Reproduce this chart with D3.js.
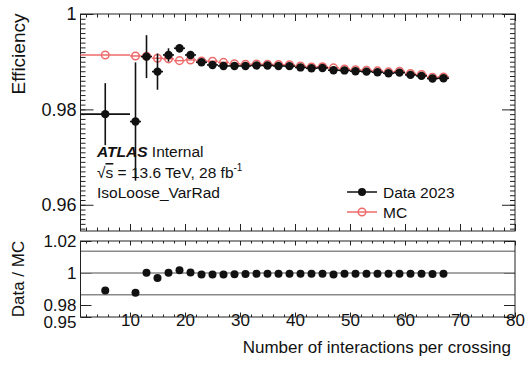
<!DOCTYPE html>
<html>
<head>
<meta charset="utf-8">
<script src="https://cdn.jsdelivr.net/npm/d3@7"></script>
<style>
  body { margin: 0; background: #fff; }
  svg { display: block; font-family: 'Liberation Sans', Arial, Helvetica, sans-serif; }
  text { fill: #111; }
</style>
</head>
<body>
<div id="wrapper"></div>
<script>
// bins of pile-up (mu)
const binCenters = [5.5, 11, 13, 15, 17, 19, 21, 23, 25, 27, 29, 31, 33, 35, 37, 39, 41, 43, 45, 47, 49, 51, 53, 55, 57, 59, 61, 63, 65, 67];
const binWidths = [9, 2, 2, 2, 2, 2, 2, 2, 2, 2, 2, 2, 2, 2, 2, 2, 2, 2, 2, 2, 2, 2, 2, 2, 2, 2, 2, 2, 2, 2];

const dataEff = [0.9790, 0.97745, 0.99106, 0.98792, 0.99141, 0.99282, 0.99141, 0.98988, 0.98932, 0.98911,
  0.98911, 0.98911, 0.98921, 0.98921, 0.98911, 0.98907, 0.98880, 0.98863, 0.98869, 0.98821,
  0.98817, 0.98800, 0.98792, 0.98779, 0.98758, 0.98771, 0.98723, 0.98702, 0.98647, 0.98653];
const dataErr = [0.0065, 0.0124, 0.0045, 0.0038, 0.0014, 0.0009, 0.0007, 0.0006, 0.0005, 0.0004,
  0.0004, 0.0004, 0.0004, 0.0004, 0.0004, 0.0004, 0.0004, 0.0004, 0.0004, 0.0004,
  0.0004, 0.0004, 0.0004, 0.0004, 0.0004, 0.0004, 0.0004, 0.0004, 0.0004, 0.0004];

const mcEff = [0.99141, 0.99120, 0.99114, 0.99072, 0.9906, 0.99022, 0.99037, 0.99016, 0.99010, 0.98985,
  0.98955, 0.98945, 0.98950, 0.98945, 0.98940, 0.98935, 0.98910, 0.98890, 0.98895, 0.98870,
  0.98845, 0.98830, 0.98822, 0.98808, 0.98786, 0.98800, 0.98752, 0.98730, 0.98675, 0.98680];

const ratio = [0.9890, 0.9877, 1.0002, 0.9969, 1.0002, 1.0017, 1.0003, 0.9991, 0.9990, 0.9991,
  0.9992, 0.9993, 0.9995, 0.9995, 0.9995, 0.9995, 0.9995, 0.9995, 0.9995, 0.9990,
  0.9995, 0.9995, 0.9995, 0.9995, 0.9995, 0.9995, 0.9995, 0.9995, 0.9994, 0.9995];

const xTickValues = [10, 20, 30, 40, 50, 60, 70, 80];
const effTickValues = [0.96, 0.98, 1];
const effTickLabels = ['0.96', '0.98', '1'];
const ratioTickValues = [0.9725, 0.98, 1, 1.02];
const ratioTickLabels = ['0.95', '0.98', '1', '1.02'];
const ratioLines = [1.0136, 1, 0.9864];

const legendLabels = ['Data 2023', 'MC'];

function drawChart() {
  const dimensions = {
    width: 526,
    height: 381,
    left: 80.5,
    right: 515,
    top: { y0: 14, y1: 231 },
    bottom: { y0: 241, y1: 317 }
  };
  const red = '#ee6b6b';

  const svg = d3.select('#wrapper').append('svg')
    .attr('width', dimensions.width)
    .attr('height', dimensions.height);

  // scales
  const xScale = d3.scaleLinear().domain([1, 80]).range([dimensions.left, dimensions.right]);
  const yEff = d3.scaleLinear().domain([0.9545, 1]).range([dimensions.top.y1, dimensions.top.y0]);
  const yRatio = d3.scaleLinear().domain([0.9725, 1.02]).range([dimensions.bottom.y1, dimensions.bottom.y0]);

  const minorX = d3.range(2, 80.1, 2);
  const minorEff = d3.range(0.955, 1.0001, 0.001);

  const tickAxis = (g, axis) => {
    g.call(axis);
    g.select('.domain').remove();
    g.selectAll('line').attr('stroke', '#222').attr('stroke-width', 1);
  };

  // upper pad ticks
  [[dimensions.top.y1, d3.axisBottom], [dimensions.top.y0, d3.axisTop]].forEach(([y, ax]) => {
    svg.append('g').attr('transform', `translate(0,${y})`)
      .call(tickAxis, ax(xScale).tickValues(minorX).tickSize(-3.5).tickFormat(''));
    svg.append('g').attr('transform', `translate(0,${y})`)
      .call(tickAxis, ax(xScale).tickValues(xTickValues).tickSize(-7).tickFormat(''));
  });
  [[dimensions.left, d3.axisLeft], [dimensions.right, d3.axisRight]].forEach(([x, ax]) => {
    svg.append('g').attr('transform', `translate(${x},0)`)
      .call(tickAxis, ax(yEff).tickValues(minorEff).tickSize(-5).tickFormat(''));
    svg.append('g').attr('transform', `translate(${x},0)`)
      .call(tickAxis, ax(yEff).tickValues(effTickValues).tickSize(-13).tickFormat(''));
  });

  // upper y labels
  const effLabels = svg.append('g').attr('transform', `translate(${dimensions.left},0)`)
    .call(d3.axisLeft(yEff).tickValues(effTickValues).tickSize(0).tickPadding(4)
      .tickFormat((d, i) => effTickLabels[i]));
  effLabels.select('.domain').remove();
  effLabels.selectAll('text').attr('font-size', 18).attr('fill', '#111').attr('font-family', null);

  // lower pad ticks
  [[dimensions.bottom.y1, d3.axisBottom], [dimensions.bottom.y0, d3.axisTop]].forEach(([y, ax]) => {
    svg.append('g').attr('transform', `translate(0,${y})`)
      .call(tickAxis, ax(xScale).tickValues(minorX).tickSize(-2.5).tickFormat(''));
    svg.append('g').attr('transform', `translate(0,${y})`)
      .call(tickAxis, ax(xScale).tickValues(xTickValues).tickSize(-4.5).tickFormat(''));
  });
  [[dimensions.left, d3.axisLeft], [dimensions.right, d3.axisRight]].forEach(([x, ax]) => {
    svg.append('g').attr('transform', `translate(${x},0)`)
      .call(tickAxis, ax(yRatio).tickValues(ratioTickValues).tickSize(-11).tickFormat(''));
  });

  // reference lines in ratio pad
  svg.append('g').selectAll('line').data(ratioLines).join('line')
    .attr('x1', dimensions.left).attr('x2', dimensions.right)
    .attr('y1', d => yRatio(d)).attr('y2', d => yRatio(d))
    .attr('stroke', '#8a8a8a').attr('stroke-width', 1.6);

  // lower labels
  const ratioLabels = svg.append('g').attr('transform', `translate(${dimensions.left},0)`)
    .call(d3.axisLeft(yRatio).tickValues(ratioTickValues).tickSize(0).tickPadding(4)
      .tickFormat((d, i) => ratioTickLabels[i]));
  ratioLabels.select('.domain').remove();
  ratioLabels.selectAll('text').attr('font-size', 17).attr('fill', '#111').attr('font-family', null);
  // the lowest label sits level with the x labels, as in the ROOT pad
  ratioLabels.selectAll('.tick').filter(d => d === ratioTickValues[0]).select('text').attr('dy', '0.62em');

  const xLabels = svg.append('g').attr('transform', `translate(0,${dimensions.bottom.y1})`)
    .call(d3.axisBottom(xScale).tickValues(xTickValues).tickSize(0).tickPadding(-3));
  xLabels.select('.domain').remove();
  xLabels.selectAll('text').attr('font-size', 17).attr('fill', '#111').attr('font-family', null);

  // frames
  [dimensions.top, dimensions.bottom].forEach(p => {
    svg.append('rect')
      .attr('x', dimensions.left).attr('y', p.y0)
      .attr('width', dimensions.right - dimensions.left).attr('height', p.y1 - p.y0)
      .attr('fill', 'none').attr('stroke', '#222').attr('stroke-width', 1);
  });

  const bins = binCenters.map((c, i) => ({
    x: c, w: binWidths[i], data: dataEff[i], err: dataErr[i], mc: mcEff[i], ratio: ratio[i]
  }));

  // MC
  const mcG = svg.append('g');
  mcG.selectAll('line').data(bins).join('line')
    .attr('x1', d => xScale(d.x - d.w / 2)).attr('x2', d => xScale(d.x + d.w / 2))
    .attr('y1', d => yEff(d.mc)).attr('y2', d => yEff(d.mc))
    .attr('stroke', red).attr('stroke-width', 1.5);
  mcG.selectAll('circle').data(bins).join('circle')
    .attr('cx', d => xScale(d.x)).attr('cy', d => yEff(d.mc)).attr('r', 3.8)
    .attr('fill', 'none').attr('stroke', red).attr('stroke-width', 1.5);

  // Data
  const dataG = svg.append('g');
  dataG.selectAll('.hbar').data(bins).join('line').attr('class', 'hbar')
    .attr('x1', d => xScale(d.x - d.w / 2)).attr('x2', d => xScale(d.x + d.w / 2))
    .attr('y1', d => yEff(d.data)).attr('y2', d => yEff(d.data))
    .attr('stroke', '#111').attr('stroke-width', 1.6);
  dataG.selectAll('.vbar').data(bins).join('line').attr('class', 'vbar')
    .attr('x1', d => xScale(d.x)).attr('x2', d => xScale(d.x))
    .attr('y1', d => yEff(d.data - d.err)).attr('y2', d => yEff(d.data + d.err))
    .attr('stroke', '#111').attr('stroke-width', 1.6);
  dataG.selectAll('circle').data(bins).join('circle')
    .attr('cx', d => xScale(d.x)).attr('cy', d => yEff(d.data)).attr('r', 4.2)
    .attr('fill', '#111');

  // ratio points
  svg.append('g').selectAll('circle').data(bins).join('circle')
    .attr('cx', d => xScale(d.x)).attr('cy', d => yRatio(d.ratio)).attr('r', 4)
    .attr('fill', '#111');

  // axis titles
  svg.append('text')
    .attr('transform', `translate(25,54) rotate(-90)`)
    .attr('text-anchor', 'middle').attr('font-size', 19)
    .text('Efficiency');
  svg.append('text')
    .attr('transform', `translate(24,279) rotate(-90)`)
    .attr('text-anchor', 'middle').attr('font-size', 17)
    .text('Data / MC');
  svg.append('text')
    .attr('x', 511).attr('y', 353)
    .attr('text-anchor', 'end').attr('font-size', 17)
    .text('Number of interactions per crossing');

  // ATLAS label
  const atlas = svg.append('text').attr('x', 97).attr('y', 157).attr('font-size', 15.5);
  atlas.append('tspan').attr('font-weight', 'bold').attr('font-style', 'italic').text('ATLAS');
  atlas.append('tspan').text(' Internal');
  const lumi = svg.append('text').attr('x', 97).attr('y', 178).attr('font-size', 15.5);
  lumi.append('tspan').text('√');
  lumi.append('tspan').attr('text-decoration', 'overline').text('s');
  lumi.append('tspan').text(' = 13.6 TeV, 28 fb');
  lumi.append('tspan').attr('font-size', 10).attr('dy', -7).text('-1');
  svg.append('text').attr('x', 97).attr('y', 198).attr('font-size', 15.5)
    .text('IsoLoose_VarRad');

  // legend
  const legend = svg.append('g');
  const rows = legend.selectAll('g').data(legendLabels).join('g')
    .attr('transform', (d, i) => `translate(347,${192 + i * 20})`);
  rows.append('line').attr('x1', 0).attr('x2', 30)
    .attr('stroke', (d, i) => i === 0 ? '#111' : red).attr('stroke-width', 1.5);
  rows.append('circle').attr('cx', 15).attr('r', (d, i) => i === 0 ? 4 : 3.8)
    .attr('fill', (d, i) => i === 0 ? '#111' : 'none')
    .attr('stroke', (d, i) => i === 0 ? 'none' : red).attr('stroke-width', 1.5);
  rows.append('text').attr('x', 36).attr('dy', '0.36em').attr('font-size', 15.5)
    .text(d => d);
}
drawChart();
</script>
</body>
</html>
